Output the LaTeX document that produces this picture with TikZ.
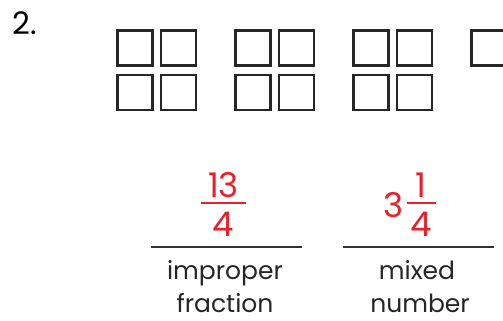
\documentclass[tikz,border=0pt]{standalone}
\usepackage{fontspec}
\setmainfont{Poppins}
\usepackage{tikz}
\usetikzlibrary{calc,positioning}
\definecolor{fracred}{RGB}{232,32,44}
\definecolor{linegray}{RGB}{50,50,50}

\begin{document}
\begin{tikzpicture}[x=1pt,y=-1pt]
    \tikzstyle{cell}=[rectangle, draw=black!85, line width=2.8pt, inner sep=0pt, minimum size=35pt]
    \tikzstyle{redtxt}=[text=fracred, inner sep=0pt, font=\fontsize{34}{34}\selectfont]
    \tikzstyle{word}=[inner sep=0pt, anchor=base, text=black!85, font=\fontsize{25}{25}\selectfont]
    \tikzstyle{bar}=[draw=fracred, line width=1.6pt]
    \tikzstyle{answer}=[draw=linegray, line width=1.8pt]

    \useasboundingbox (0,0) rectangle (503,321);

    \node[inner sep=0pt, anchor=base west, font=\fontsize{31}{31}\selectfont] (num) at (12,35) {2.};

    % three full wholes
    \foreach \g in {0,1,2} {
        \node[cell] (a\g) at (135+118*\g,48) {};
        \node[cell] (b\g) at (178.5+118*\g,48) {};
        \node[cell] (c\g) at (135+118*\g,92.5) {};
        \node[cell] (d\g) at (178.5+118*\g,92.5) {};
    }
    % one fourth
    \node[cell] (a3) at (489,48) {};

    % improper fraction
    \node[redtxt] (n1) at (223.5,185) {13};
    \node[redtxt] (d1) at (223.5,224) {4};
    \draw[bar] (201,203) -- (246,203);

    % mixed number
    \node[redtxt] (w2) at (394,205) {3};
    \node[redtxt] (n2) at (421,185) {1};
    \node[redtxt] (d2) at (421,224) {4};
    \draw[bar] (407,203) -- (436,203);

    % answer lines
    \coordinate (l1) at (151,247);
    \coordinate (r1) at (302,247);
    \coordinate (l2) at (343,247);
    \coordinate (r2) at (494,247);
    \draw[answer] (l1) -- (r1);
    \draw[answer] (l2) -- (r2);

    \node[word] (t1) at (225,279) {improper};
    \node[word] (t2) at (225,312) {fraction};
    \node[word] (t3) at (417,279) {mixed};
    \node[word] (t4) at (420,312) {number};
\end{tikzpicture}
\end{document}
